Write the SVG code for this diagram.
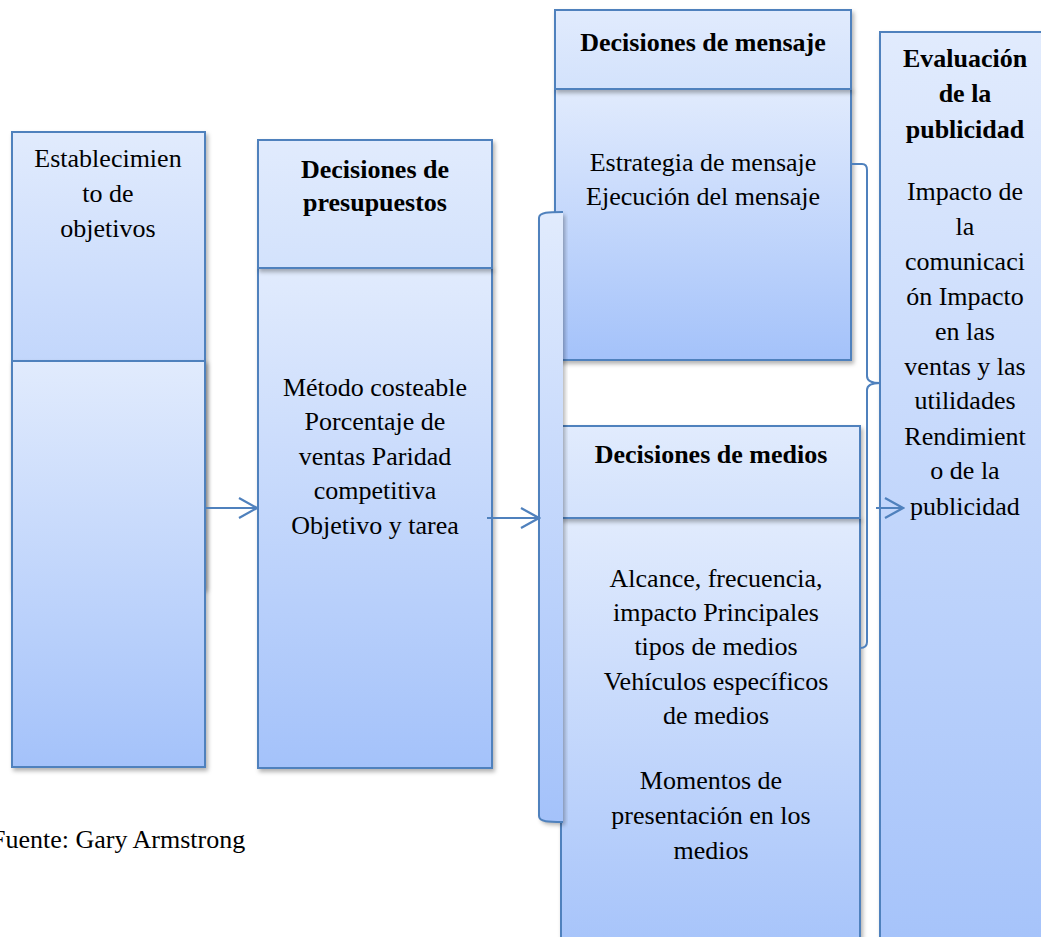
<svg xmlns="http://www.w3.org/2000/svg" width="1041" height="937" viewBox="0 0 1041 937">
<defs>
<linearGradient id="g" x1="0" y1="0" x2="0" y2="1">
<stop offset="0" stop-color="#e1ebfd"/>
<stop offset="1" stop-color="#a4c2fa"/>
</linearGradient>
<linearGradient id="gh" x1="0" y1="0" x2="0" y2="1">
<stop offset="0" stop-color="#e1ebfd"/>
<stop offset="1" stop-color="#d3e2fc"/>
</linearGradient>
<filter id="sh" x="-10%" y="-10%" width="130%" height="130%">
<feDropShadow dx="2" dy="3" stdDeviation="2" flood-color="#000" flood-opacity="0.3"/>
</filter>
<marker id="arr" viewBox="0 0 22 22" refX="20" refY="11" markerWidth="22" markerHeight="22" markerUnits="userSpaceOnUse" orient="auto">
<path d="M2,1 L20,11 L2,21" fill="none" stroke="#4f81bd" stroke-width="2.2"/>
</marker>
</defs>
<style>
.box{fill:url(#g);stroke:#4f81bd;stroke-width:2;filter:url(#sh)}
.hdr{fill:url(#gh);stroke:#4f81bd;stroke-width:2;filter:url(#sh)}
.t{font-family:"Liberation Serif","Times New Roman",serif;font-size:26px;fill:#000;text-anchor:middle}
.b{font-weight:bold}
.ln{fill:none;stroke:#4f81bd;stroke-width:2}
</style>
<rect width="1041" height="937" fill="#fff"/>

<g id="node-objetivos">
<rect class="box" x="12" y="132" width="193" height="456"/>
<rect class="box" x="12" y="361" width="193" height="406"/>
<text class="t" x="108" y="167">Establecimien</text>
<text class="t" x="108" y="202">to de</text>
<text class="t" x="108" y="237">objetivos</text>
</g>

<g id="node-presupuestos">
<rect class="box" x="258" y="268" width="234" height="500"/>
<rect class="hdr" x="258" y="140" width="234" height="128"/>
<text class="t b" x="375" y="178">Decisiones de</text>
<text class="t b" x="375" y="211">presupuestos</text>
<text class="t" x="375" y="396">Método costeable</text>
<text class="t" x="375" y="430">Porcentaje de</text>
<text class="t" x="375" y="465">ventas Paridad</text>
<text class="t" x="375" y="499">competitiva</text>
<text class="t" x="375" y="534">Objetivo y tarea</text>
</g>

<g id="node-mensaje">
<rect class="box" x="555" y="89" width="296" height="271"/>
<rect class="hdr" x="555" y="10" width="296" height="79"/>
<text class="t b" x="703" y="51">Decisiones de mensaje</text>
<text class="t" x="703" y="171">Estrategia de mensaje</text>
<text class="t" x="703" y="205">Ejecución del mensaje</text>
</g>

<g id="node-medios">
<rect class="box" x="561" y="518" width="299" height="450"/>
<rect class="hdr" x="561" y="426" width="299" height="92"/>
<text class="t b" x="711" y="463">Decisiones de medios</text>
<text class="t" x="716" y="587">Alcance, frecuencia,</text>
<text class="t" x="716" y="621">impacto Principales</text>
<text class="t" x="716" y="655">tipos de medios</text>
<text class="t" x="716" y="690">Vehículos específicos</text>
<text class="t" x="716" y="724">de medios</text>
<text class="t" x="711" y="789">Momentos de</text>
<text class="t" x="711" y="824">presentación en los</text>
<text class="t" x="711" y="859">medios</text>
</g>

<g id="node-evaluacion">
<rect class="box" x="880" y="32" width="170" height="940"/>
<text class="t b" x="965" y="67">Evaluación</text>
<text class="t b" x="965" y="102">de la</text>
<text class="t b" x="965" y="138">publicidad</text>
<text class="t" x="965" y="200">Impacto de</text>
<text class="t" x="965" y="235">la</text>
<text class="t" x="965" y="270">comunicaci</text>
<text class="t" x="965" y="305">ón Impacto</text>
<text class="t" x="965" y="340">en las</text>
<text class="t" x="965" y="375">ventas y las</text>
<text class="t" x="965" y="409">utilidades</text>
<text class="t" x="965" y="445">Rendimient</text>
<text class="t" x="965" y="479">o de la</text>
<text class="t" x="965" y="515">publicidad</text>
</g>

<g id="bracket-left">
<path d="M563,212 C549,212 539,212 539,218 L539,816 C539,822 549,822 563,822 Z" fill="url(#g)" filter="url(#sh)"/>
<path class="ln" d="M563,212 C549,212 539,212 539,218 L539,816 C539,822 549,822 563,822"/>
</g>

<g id="bracket-right">
<path class="ln" d="M852,164 L862,164 Q867,164 867,170 L867,376 Q867,383 880,383 Q867,383 867,390 L867,642 Q867,648 860,648"/>
</g>

<g id="connectors">
<line class="ln" x1="205" y1="508" x2="257" y2="508" marker-end="url(#arr)"/>
<line class="ln" x1="487" y1="518" x2="539" y2="518" marker-end="url(#arr)"/>
<line class="ln" x1="876" y1="508" x2="903" y2="508" marker-end="url(#arr)"/>
</g>

<text class="t" x="-9" y="848" style="text-anchor:start">Fuente: Gary Armstrong</text>
</svg>
